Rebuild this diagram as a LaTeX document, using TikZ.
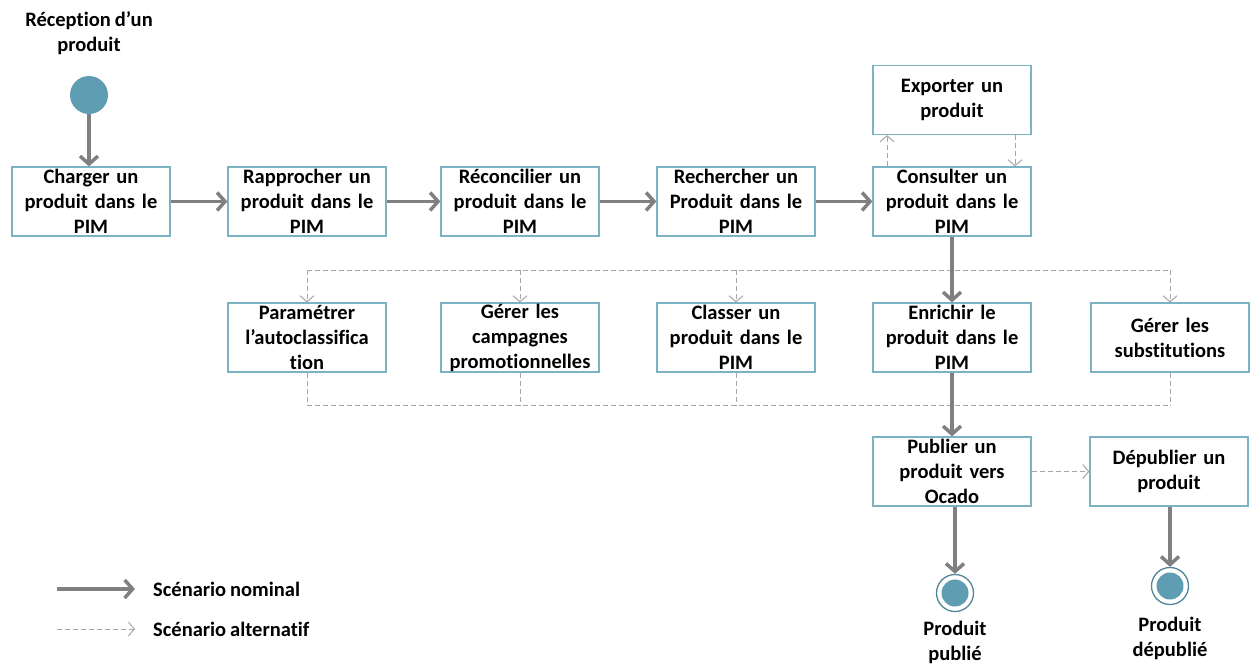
\documentclass[tikz,border=0pt]{standalone}
\usepackage{fontspec}
\setmainfont{Carlito}[Ligatures=NoCommon, WordSpace=0.85]
\usetikzlibrary{positioning,arrows.meta}
\definecolor{bordbleu}{HTML}{7DB1C4}
\definecolor{grisnom}{HTML}{808080}
\definecolor{grisalt}{HTML}{A6A6A6}
\definecolor{bleuetat}{HTML}{5F9EB2}
\begin{document}
\begin{tikzpicture}[x=1pt, y=-1pt,
bloc/.style={rectangle, draw=bordbleu, line width=1.2pt, fill=white, minimum width=158pt, minimum height=69pt, inner sep=0pt, text width=156pt, align=center, font=\bfseries\fontsize{20.5}{25}\selectfont},
etiquette/.style={align=center, inner sep=0pt, font=\bfseries\fontsize{20.5}{25}\selectfont},
nominal/.style={draw=grisnom, line width=3.5pt, -{Straight Barb[length=8pt, width=18pt]}},
alternatif/.style={draw=grisalt, line width=1pt, dash pattern=on 5pt off 3pt, -{Straight Barb[length=6pt, width=14pt]}},
alternatifsimple/.style={draw=grisalt, line width=1pt, dash pattern=on 5pt off 3pt},
debut/.style={circle, fill=bleuetat, minimum size=38pt, inner sep=0pt},
fin/.style={circle, draw=bleuetat!85!black, line width=1.3pt, fill=white, minimum size=37pt, inner sep=0pt},
]
    \useasboundingbox (0,0) rectangle (1250,666);
    % Longueurs et espacement
    \def\espacement{216pt}
    \def\descente{136pt}

    % Définition des blocs
    \node [debut] (reception) at (89,95) {};
    \node [etiquette, above of=reception, node distance=62pt] (lreception) {Réception d’un\\produit};
    \node [bloc] (charger) at (91,201.5) {Charger un\\produit dans le\\PIM};
    \node [bloc, right of=charger, node distance=\espacement] (rapprocher) {Rapprocher un\\produit dans le\\PIM};
    \node [bloc, right of=rapprocher, node distance=213pt] (reconcilier) {Réconcilier un\\produit dans le\\PIM};
    \node [bloc, right of=reconcilier, node distance=\espacement] (rechercher) {Rechercher un\\Produit dans le\\PIM};
    \node [bloc, right of=rechercher, node distance=\espacement] (consulter) {Consulter un\\produit dans le\\PIM};
    \node [bloc, above of=consulter, node distance=101.5pt] (exporter) {Exporter un\\produit};

    \node [bloc, below of=rapprocher, node distance=\descente] (parametrer) {Paramétrer\\l’autoclassifica\\tion};
    \node [bloc, below of=reconcilier, node distance=\descente] (campagnes) {Gérer les\\campagnes\\promotionnelles};
    \node [bloc, below of=rechercher, node distance=\descente] (classer) {Classer un\\produit dans le\\PIM};
    \node [bloc, below of=consulter, node distance=\descente] (enrichir) {Enrichir le\\produit dans le\\PIM};
    \node [bloc, right of=enrichir, node distance=218pt] (substitutions) {Gérer les\\substitutions};

    \node [bloc, below of=enrichir, node distance=134pt] (publier) {Publier un\\produit vers\\Ocado};
    \node [bloc, right of=publier, node distance=217pt] (depublier) {Dépublier un\\produit};

    \node [fin] (publie) at (955,593) {};
    \node [fin] (depublie) at (1170,586) {};
    \fill [bleuetat] (publie.center) circle (13.5);
    \fill [bleuetat] (depublie.center) circle (13.5);
    \node [etiquette, below of=publie, node distance=49pt] (lpublie) {Produit\\publié};
    \node [etiquette, below of=depublie, node distance=52pt] (ldepublie) {Produit\\dépublié};

    % Définition des liens
    \draw [nominal] (reception) -- (reception |- charger.north);
    \draw [nominal] (charger) -- (rapprocher);
    \draw [nominal] (rapprocher) -- (reconcilier);
    \draw [nominal] (reconcilier) -- (rechercher);
    \draw [nominal] (rechercher) -- (consulter);
    \draw [alternatif] ([xshift=-65pt]consulter.north) -- ([xshift=-65pt]exporter.south);
    \draw [alternatif] ([xshift=63pt]exporter.south) -- ([xshift=63pt]consulter.north);

    \coordinate (bushaut) at (952,270);
    \coordinate (busbas) at (952,405);
    \draw [alternatifsimple] (parametrer.north |- bushaut) -- (substitutions.north |- bushaut);
    \draw [alternatif] (parametrer.north |- bushaut) -- (parametrer.north);
    \draw [alternatif] (campagnes.north |- bushaut) -- (campagnes.north);
    \draw [alternatif] (classer.north |- bushaut) -- (classer.north);
    \draw [alternatif] (substitutions.north |- bushaut) -- (substitutions.north);
    \draw [alternatifsimple] (parametrer.south |- busbas) -- (substitutions.south |- busbas);
    \draw [alternatifsimple] (parametrer.south) -- (parametrer.south |- busbas);
    \draw [alternatifsimple] (campagnes.south) -- (campagnes.south |- busbas);
    \draw [alternatifsimple] (classer.south) -- (classer.south |- busbas);
    \draw [alternatifsimple] (substitutions.south) -- (substitutions.south |- busbas);
    \draw [nominal] (consulter) -- (enrichir);
    \draw [nominal] (enrichir) -- (publier);

    \draw [alternatif] (publier) -- (depublier);
    \draw [nominal] (publie |- publier.south) -- (publie);
    \draw [nominal] (depublie |- depublier.south) -- (depublie);

    % Légende
    \coordinate (nomA) at (57,589);
    \coordinate (nomB) at (135,589);
    \coordinate (altA) at (57,629);
    \coordinate (altB) at (135,629);
    \draw [nominal] (nomA) -- (nomB);
    \draw [alternatif] (altA) -- (altB);
    \node [etiquette, anchor=west] (lnominal) at (153,589) {Scénario nominal};
    \node [etiquette, anchor=west] (lalternatif) at (153,629) {Scénario alternatif};
\end{tikzpicture}
\end{document}
